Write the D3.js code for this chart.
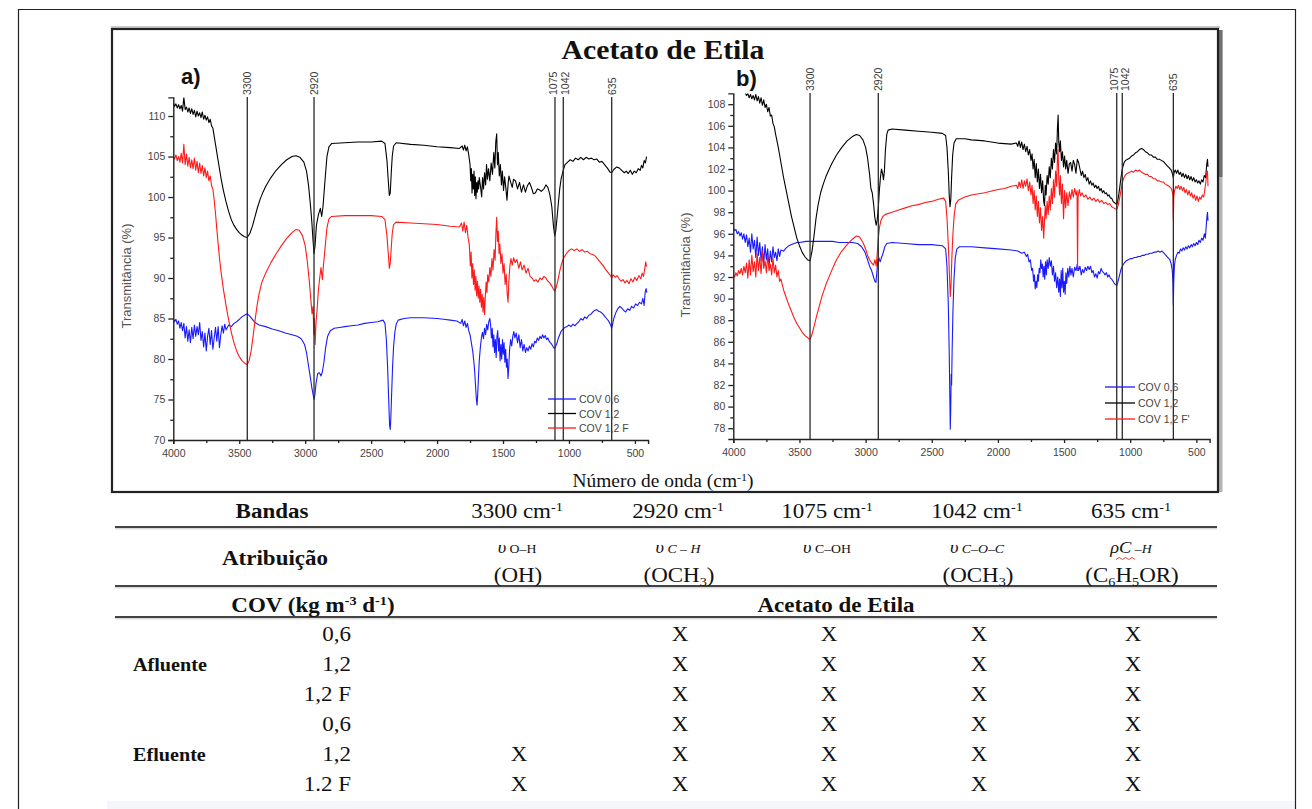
<!DOCTYPE html>
<html><head><meta charset="utf-8">
<script src="https://cdn.jsdelivr.net/npm/d3@7"></script>
<style>body{margin:0;background:#fff}svg{display:block}</style>
</head><body>
<svg id="c" width="1312" height="809"></svg>
<script>
// ---------------- DATA ----------------
const xTicks = [4000,3500,3000,2500,2000,1500,1000,500];
const yTicksA = [70,75,80,85,90,95,100,105,110];
const yTicksB = [78,80,82,84,86,88,90,92,94,96,98,100,102,104,106,108];
const refLabels = ["3300","2920","1075","1042","635"];
const refLinesA = [3439,2933,1106,1043,676];
const refLinesB = [3420,2904,1102,1060,674];
const seriesNames = ["COV 0,6","COV 1,2","COV 1,2 F"];
const seriesNamesB = ["COV 0,6","COV 1,2","COV 1,2 F'"];

const a_cov06 = [[4000,85.0],[3990,84.6],[3980,84.9],[3970,84.3],[3960,84.7],[3950,83.8],[3940,84.5],[3930,83.5],[3920,84.4],[3910,82.6],[3900,84.0],[3890,82.2],[3880,83.6],[3870,82.0],[3860,83.9],[3850,82.5],[3840,84.2],[3830,82.8],[3820,84.0],[3810,83.0],[3800,84.5],[3790,82.3],[3780,83.4],[3770,81.5],[3760,83.2],[3750,81.0],[3740,82.8],[3730,83.8],[3720,81.8],[3710,83.5],[3700,81.2],[3690,82.6],[3680,83.9],[3670,82.2],[3660,84.0],[3650,81.4],[3640,83.0],[3630,84.1],[3620,83.2],[3610,84.3],[3600,83.6],[3580,84.2],[3560,84.0],[3540,84.4],[3520,84.6],[3500,84.9],[3480,85.2],[3460,85.4],[3440,85.6],[3420,85.3],[3400,84.9],[3380,84.5],[3350,84.2],[3300,84.0],[3250,83.7],[3200,83.5],[3150,83.2],[3100,83.0],[3060,82.8],[3030,82.5],[3005,81.8],[2990,80.8],[2975,79.2],[2960,77.6],[2948,76.3],[2940,75.6],[2933,75.0],[2926,75.6],[2918,77.0],[2905,78.2],[2892,78.3],[2880,77.9],[2870,78.4],[2858,79.6],[2845,81.4],[2830,82.8],[2810,83.5],[2780,83.8],[2740,83.9],[2700,84.0],[2650,84.1],[2600,84.2],[2550,84.4],[2500,84.5],[2450,84.6],[2410,84.8],[2395,84.4],[2385,82.5],[2375,79.0],[2367,75.0],[2360,71.8],[2355,71.3],[2350,73.0],[2345,75.5],[2338,78.8],[2330,81.5],[2320,83.3],[2310,84.3],[2295,84.8],[2250,85.0],[2200,85.1],[2100,85.1],[2000,85.0],[1950,84.9],[1900,84.8],[1850,84.7],[1820,84.4],[1810,84.9],[1800,84.1],[1790,84.7],[1780,83.9],[1770,84.4],[1760,83.5],[1750,83.0],[1740,82.0],[1730,81.0],[1722,79.8],[1715,78.5],[1708,76.6],[1702,75.0],[1697,74.3],[1692,75.6],[1686,77.8],[1680,79.8],[1672,81.4],[1664,82.6],[1656,83.3],[1648,82.5],[1640,83.8],[1632,83.0],[1624,84.3],[1616,83.6],[1608,84.6],[1600,85.0],[1594,84.2],[1588,82.6],[1582,83.8],[1576,81.5],[1570,83.0],[1564,80.8],[1558,82.4],[1552,80.2],[1546,82.8],[1540,83.5],[1534,81.0],[1528,82.6],[1522,79.8],[1516,81.8],[1510,80.0],[1504,82.4],[1498,80.6],[1492,82.0],[1486,79.6],[1480,81.2],[1474,79.0],[1468,80.0],[1462,77.6],[1456,79.2],[1450,81.2],[1442,82.4],[1434,81.6],[1426,82.8],[1418,83.4],[1410,82.6],[1400,83.2],[1390,82.0],[1380,83.0],[1370,81.4],[1360,82.4],[1350,81.0],[1340,81.8],[1330,80.8],[1320,81.4],[1310,81.0],[1300,81.6],[1290,81.2],[1280,81.9],[1270,81.5],[1260,82.2],[1250,82.0],[1240,82.6],[1230,82.3],[1220,82.8],[1210,82.5],[1200,83.0],[1190,82.6],[1180,82.9],[1170,82.4],[1160,82.6],[1150,82.2],[1140,82.0],[1130,81.8],[1120,81.5],[1110,81.3],[1100,81.6],[1090,82.0],[1080,82.6],[1070,83.0],[1060,83.4],[1045,83.7],[1030,83.9],[1015,84.0],[1000,84.2],[985,84.0],[970,84.3],[955,84.1],[940,84.4],[925,84.6],[910,85.0],[895,84.8],[880,85.2],[865,85.0],[850,85.4],[835,85.5],[820,85.8],[805,86.0],[790,86.1],[775,85.9],[760,85.8],[745,85.6],[730,85.3],[715,85.0],[700,84.7],[690,84.4],[682,84.1],[676,83.8],[670,84.2],[660,85.0],[645,85.7],[630,86.2],[615,86.5],[600,86.3],[585,86.0],[570,85.8],[555,86.2],[540,86.0],[525,86.5],[510,86.3],[495,86.8],[480,86.6],[465,87.0],[450,86.8],[440,87.5],[430,86.6],[422,88.3],[415,88.7],[410,88.2]];

const a_cov12 = [[4000,111.6],[3990,111.2],[3980,111.5],[3970,111.0],[3960,111.4],[3950,110.9],[3940,111.3],[3930,110.6],[3920,112.3],[3910,110.8],[3900,111.1],[3890,110.5],[3880,111.0],[3870,110.3],[3860,110.9],[3850,110.2],[3840,110.7],[3830,109.9],[3820,110.6],[3810,110.0],[3800,110.4],[3790,109.8],[3780,110.5],[3770,109.6],[3760,110.1],[3750,109.5],[3740,109.9],[3730,109.2],[3720,109.6],[3710,108.8],[3700,108.5],[3680,106.5],[3660,104.5],[3640,102.5],[3620,100.8],[3600,99.4],[3580,98.2],[3560,97.2],[3540,96.5],[3520,96.0],[3500,95.6],[3480,95.3],[3460,95.1],[3440,95.0],[3420,95.5],[3400,96.4],[3380,97.6],[3360,98.8],[3340,99.8],[3320,100.6],[3300,101.3],[3260,102.4],[3220,103.3],[3180,104.0],[3140,104.6],[3100,105.0],[3070,105.1],[3040,104.9],[3010,104.3],[2990,103.2],[2975,101.5],[2960,99.0],[2950,97.0],[2940,94.5],[2933,93.0],[2925,94.0],[2915,96.5],[2900,97.8],[2885,98.6],[2875,97.6],[2865,98.8],[2850,102.0],[2835,105.0],[2820,106.2],[2800,106.6],[2700,106.7],[2600,106.8],[2500,106.8],[2420,106.9],[2395,106.6],[2380,104.5],[2370,102.0],[2362,100.2],[2355,100.5],[2348,102.8],[2340,105.0],[2330,106.3],[2310,106.7],[2200,106.5],[2100,106.4],[2000,106.2],[1900,106.1],[1830,106.0],[1810,106.3],[1800,105.8],[1790,106.4],[1780,105.7],[1770,106.2],[1760,105.2],[1750,104.0],[1745,102.0],[1740,103.5],[1735,100.5],[1730,102.8],[1725,101.0],[1720,103.2],[1715,100.2],[1710,102.5],[1705,99.8],[1700,101.8],[1695,100.6],[1690,102.0],[1685,101.0],[1680,102.4],[1670,101.2],[1662,100.0],[1655,102.4],[1648,101.0],[1640,103.0],[1632,101.5],[1625,104.0],[1618,102.2],[1610,103.5],[1600,102.0],[1590,104.2],[1580,102.8],[1570,105.5],[1562,103.6],[1555,106.8],[1548,107.8],[1542,104.0],[1536,105.5],[1528,102.6],[1520,104.0],[1512,101.5],[1505,103.2],[1496,100.8],[1488,102.5],[1478,101.0],[1470,99.6],[1462,101.5],[1455,102.6],[1445,102.0],[1430,101.2],[1420,102.2],[1405,102.0],[1390,101.0],[1375,101.8],[1360,100.6],[1345,101.5],[1330,100.6],[1315,101.4],[1300,101.8],[1285,101.2],[1270,100.4],[1255,100.5],[1240,101.0],[1225,100.9],[1210,100.7],[1190,101.0],[1175,101.5],[1160,101.2],[1145,100.3],[1130,98.8],[1118,96.5],[1108,95.2],[1100,95.8],[1090,97.5],[1080,99.3],[1070,101.0],[1060,102.2],[1045,103.2],[1030,104.0],[1010,104.3],[990,104.6],[970,104.4],[950,104.8],[930,104.6],[910,104.9],[890,104.6],[870,104.9],[850,104.7],[830,104.8],[810,104.6],[790,104.7],[770,104.3],[750,104.4],[730,104.0],[710,103.6],[690,103.1],[676,103.0],[660,103.4],[640,103.7],[620,103.6],[600,103.3],[580,103.0],[565,103.2],[550,102.9],[535,103.3],[520,102.8],[505,103.2],[490,103.0],[475,103.5],[460,103.3],[450,103.9],[440,103.6],[430,104.5],[420,104.2],[412,105.0]];

const a_cov12F = [[4000,105.0],[3990,104.7],[3980,105.2],[3970,104.5],[3960,105.0],[3950,104.3],[3940,105.4],[3930,104.2],[3920,106.5],[3910,104.0],[3900,105.3],[3890,103.8],[3880,104.9],[3870,103.6],[3860,104.6],[3850,103.5],[3840,104.8],[3830,103.3],[3820,104.4],[3810,103.0],[3800,104.2],[3790,102.9],[3780,103.9],[3770,102.6],[3760,103.6],[3750,102.4],[3740,103.2],[3730,102.0],[3720,102.6],[3710,101.4],[3700,101.0],[3690,99.6],[3680,98.0],[3670,96.0],[3660,94.2],[3650,92.5],[3640,91.0],[3620,88.6],[3600,86.6],[3580,84.8],[3560,83.3],[3540,82.0],[3520,81.0],[3500,80.3],[3480,79.8],[3460,79.5],[3440,79.3],[3425,79.8],[3410,81.0],[3395,82.8],[3380,84.8],[3365,86.6],[3350,88.0],[3330,89.4],[3300,90.6],[3260,91.9],[3220,93.0],[3180,94.0],[3140,94.9],[3100,95.6],[3070,96.0],[3045,95.9],[3020,95.2],[3000,94.0],[2985,92.2],[2970,89.8],[2958,87.5],[2948,85.6],[2940,86.5],[2935,83.0],[2930,85.0],[2925,81.8],[2918,84.5],[2910,86.0],[2900,88.5],[2890,90.0],[2880,91.3],[2870,89.8],[2862,91.5],[2850,93.6],[2835,96.2],[2820,97.3],[2800,97.6],[2700,97.7],[2600,97.7],[2500,97.7],[2420,97.6],[2395,97.2],[2380,95.2],[2370,93.0],[2362,91.2],[2355,91.8],[2348,93.6],[2340,95.5],[2330,96.6],[2310,96.9],[2200,96.8],[2100,96.7],[2000,96.6],[1900,96.4],[1830,96.3],[1815,96.8],[1805,95.8],[1795,96.9],[1785,95.6],[1775,96.5],[1765,95.0],[1755,94.0],[1748,91.5],[1742,93.2],[1736,90.0],[1730,91.8],[1724,89.2],[1718,91.0],[1712,88.5],[1706,90.2],[1700,87.8],[1694,89.6],[1688,87.5],[1682,89.0],[1676,87.0],[1670,88.6],[1664,86.4],[1658,88.0],[1652,85.8],[1646,87.6],[1640,85.5],[1634,87.8],[1628,89.5],[1622,88.2],[1616,90.4],[1608,89.5],[1600,91.3],[1592,90.2],[1584,92.4],[1576,91.0],[1568,93.5],[1560,92.2],[1554,95.5],[1548,97.5],[1542,94.5],[1536,95.8],[1530,93.0],[1524,94.2],[1516,91.8],[1508,93.0],[1500,90.6],[1492,91.8],[1484,89.2],[1476,90.5],[1468,88.0],[1462,87.0],[1456,89.5],[1448,91.5],[1440,92.4],[1430,91.6],[1420,92.5],[1408,91.9],[1395,92.3],[1380,91.2],[1368,92.0],[1355,91.0],[1340,91.6],[1325,90.6],[1310,91.2],[1295,90.2],[1280,90.0],[1265,89.6],[1250,89.8],[1235,89.5],[1220,90.0],[1205,89.8],[1190,90.2],[1175,90.0],[1160,89.6],[1145,89.4],[1130,89.0],[1118,88.6],[1108,88.4],[1098,88.8],[1088,89.4],[1078,90.2],[1068,91.0],[1055,91.8],[1040,92.5],[1020,93.0],[1000,93.4],[980,93.6],[960,93.4],[940,93.6],[920,93.3],[900,93.5],[880,93.2],[860,93.3],[840,93.0],[820,92.9],[800,92.7],[780,92.3],[760,91.9],[740,91.5],[720,91.0],[700,90.6],[685,90.3],[676,90.0],[665,90.4],[650,90.1],[635,90.3],[620,89.9],[605,89.6],[590,89.8],[575,89.4],[560,89.7],[545,89.3],[530,89.9],[515,89.5],[500,90.1],[485,89.7],[470,90.3],[455,89.9],[445,90.6],[435,90.2],[425,91.2],[418,92.0],[412,91.4]];

const b_cov06 = [[4000,96.5],[3990,96.3],[3980,96.4],[3970,96.0],[3960,96.2],[3950,95.8],[3940,96.1],[3930,95.5],[3920,96.0],[3910,95.2],[3900,95.9],[3890,94.8],[3880,95.6],[3870,94.3],[3860,96.0],[3850,94.6],[3840,95.4],[3830,93.8],[3820,95.7],[3810,94.0],[3800,95.2],[3790,93.5],[3780,94.8],[3770,93.2],[3760,95.0],[3750,93.6],[3740,94.6],[3730,93.0],[3720,94.4],[3710,93.4],[3700,94.8],[3690,93.8],[3680,94.3],[3670,93.5],[3660,94.6],[3650,93.9],[3640,94.5],[3620,94.4],[3600,94.7],[3580,94.9],[3560,95.0],[3540,95.1],[3520,95.2],[3500,95.2],[3450,95.3],[3400,95.3],[3350,95.3],[3300,95.3],[3250,95.3],[3200,95.2],[3150,95.2],[3100,95.2],[3060,95.1],[3030,94.8],[3005,94.3],[2985,93.6],[2970,93.0],[2955,92.6],[2940,92.0],[2930,91.6],[2922,91.5],[2915,92.4],[2908,93.6],[2900,93.8],[2890,93.4],[2880,93.8],[2868,94.2],[2855,94.8],[2840,95.1],[2800,95.2],[2700,95.1],[2600,95.0],[2500,95.0],[2420,94.9],[2395,94.6],[2385,93.0],[2375,89.5],[2368,85.0],[2363,80.5],[2360,77.9],[2357,79.5],[2353,83.0],[2350,82.0],[2346,85.2],[2340,88.8],[2332,91.8],[2322,93.8],[2310,94.6],[2290,94.8],[2200,94.8],[2100,94.7],[2000,94.6],[1900,94.5],[1850,94.4],[1820,94.2],[1800,94.3],[1785,93.9],[1775,94.1],[1765,93.4],[1755,93.6],[1745,92.6],[1738,92.8],[1730,91.6],[1724,92.2],[1718,90.9],[1712,91.6],[1706,91.0],[1700,92.2],[1694,91.6],[1688,92.8],[1682,92.4],[1676,93.6],[1670,92.8],[1664,93.2],[1658,92.0],[1652,93.0],[1646,91.8],[1640,93.4],[1634,92.2],[1628,93.6],[1620,92.8],[1612,93.8],[1604,93.0],[1596,93.5],[1588,92.2],[1580,93.0],[1572,91.6],[1564,92.4],[1556,91.0],[1548,92.0],[1540,90.6],[1534,91.8],[1528,90.2],[1522,92.6],[1516,91.0],[1510,92.8],[1504,90.6],[1498,91.6],[1492,90.4],[1486,92.4],[1480,91.4],[1472,92.8],[1464,92.0],[1456,93.0],[1448,92.2],[1440,92.8],[1430,92.0],[1420,92.9],[1410,92.6],[1400,93.2],[1390,92.6],[1380,93.0],[1370,92.2],[1360,92.7],[1350,92.4],[1340,92.9],[1330,92.6],[1320,93.0],[1310,92.7],[1300,93.0],[1290,92.4],[1280,92.6],[1270,92.0],[1260,92.3],[1250,91.9],[1240,92.5],[1230,92.3],[1220,92.8],[1210,92.5],[1200,92.4],[1190,92.2],[1180,92.4],[1170,92.0],[1160,92.2],[1150,91.9],[1140,91.8],[1130,91.6],[1120,91.4],[1110,91.3],[1102,91.2],[1094,91.5],[1086,91.9],[1078,92.3],[1070,92.7],[1060,93.0],[1045,93.3],[1030,93.5],[1015,93.6],[1000,93.7],[985,93.7],[970,93.8],[955,93.8],[940,93.9],[925,93.9],[910,94.0],[895,94.0],[880,94.1],[865,94.1],[850,94.2],[835,94.2],[820,94.3],[805,94.3],[790,94.4],[775,94.3],[760,94.4],[745,94.2],[730,94.0],[715,93.8],[700,93.6],[690,93.2],[682,92.6],[677,91.4],[674,89.4],[671,91.6],[666,93.0],[660,93.6],[650,94.0],[640,94.3],[630,94.2],[620,94.6],[610,94.4],[600,94.7],[590,94.5],[580,94.8],[570,94.6],[560,94.9],[550,94.7],[540,95.0],[530,94.8],[520,95.1],[510,94.9],[500,95.2],[490,95.0],[480,95.4],[470,95.2],[460,95.6],[450,95.4],[440,96.0],[432,95.6],[425,96.8],[420,97.6],[416,98.0],[412,97.2]];

const b_cov12 = [[4000,109.4],[3980,109.2],[3960,109.5],[3940,109.1],[3920,109.3],[3900,108.8],[3890,109.0],[3880,108.6],[3870,108.9],[3860,108.5],[3850,108.8],[3840,108.4],[3830,108.9],[3820,108.3],[3810,108.7],[3800,108.1],[3790,108.6],[3780,107.9],[3770,108.4],[3760,107.7],[3750,108.0],[3740,107.3],[3730,107.7],[3720,106.9],[3710,107.0],[3700,106.2],[3690,105.9],[3680,105.2],[3660,104.0],[3640,102.6],[3620,101.2],[3600,100.0],[3580,98.8],[3560,97.6],[3540,96.6],[3520,95.6],[3500,94.9],[3480,94.3],[3460,93.9],[3440,93.6],[3420,93.5],[3405,94.4],[3390,95.8],[3375,97.4],[3360,98.6],[3340,99.8],[3320,100.6],[3300,101.3],[3260,102.4],[3220,103.3],[3180,104.0],[3140,104.6],[3100,105.0],[3070,105.2],[3045,105.1],[3020,104.7],[3000,104.0],[2985,103.0],[2970,101.5],[2960,100.2],[2950,99.8],[2940,98.8],[2930,97.5],[2920,96.8],[2912,97.3],[2904,98.4],[2896,100.0],[2888,101.2],[2880,102.0],[2872,101.6],[2865,101.0],[2858,101.8],[2850,103.8],[2840,105.2],[2830,105.6],[2800,105.7],[2700,105.6],[2600,105.5],[2500,105.4],[2420,105.3],[2395,105.1],[2385,104.0],[2375,101.8],[2368,99.6],[2362,98.5],[2356,99.2],[2350,101.2],[2342,103.3],[2332,104.4],[2315,104.8],[2250,104.8],[2200,104.7],[2100,104.6],[2000,104.4],[1900,104.3],[1860,104.4],[1850,104.1],[1840,104.6],[1830,104.0],[1820,104.5],[1810,103.8],[1800,104.3],[1790,103.6],[1780,104.1],[1770,103.3],[1760,103.8],[1750,102.8],[1742,103.4],[1734,102.0],[1726,102.9],[1718,101.2],[1710,102.5],[1702,100.8],[1694,102.0],[1686,100.2],[1678,101.5],[1670,99.8],[1662,100.9],[1654,99.0],[1648,98.6],[1642,100.5],[1636,99.6],[1628,101.4],[1620,100.6],[1612,102.2],[1604,101.2],[1596,103.0],[1588,102.0],[1580,103.8],[1572,102.6],[1564,104.4],[1556,103.4],[1550,105.8],[1545,107.0],[1540,104.5],[1534,103.6],[1528,104.6],[1520,102.8],[1512,103.6],[1504,102.2],[1496,103.2],[1488,102.0],[1480,102.8],[1470,101.6],[1460,102.5],[1450,102.6],[1440,101.8],[1430,102.8],[1420,102.4],[1410,101.6],[1400,102.9],[1390,102.6],[1380,102.0],[1370,101.4],[1360,101.8],[1350,101.2],[1340,101.5],[1330,100.9],[1320,101.2],[1310,100.6],[1300,100.9],[1290,100.5],[1280,100.7],[1270,100.3],[1260,100.5],[1250,100.2],[1240,100.4],[1230,100.0],[1220,100.2],[1210,99.8],[1200,100.0],[1190,99.7],[1180,99.8],[1170,99.5],[1160,99.6],[1150,99.3],[1140,99.3],[1130,99.0],[1120,98.9],[1110,98.8],[1102,98.7],[1095,99.0],[1088,99.5],[1080,100.2],[1072,101.0],[1064,101.7],[1056,102.2],[1046,102.6],[1035,102.8],[1020,102.9],[1005,103.0],[990,103.2],[975,103.3],[960,103.5],[945,103.6],[930,103.8],[915,103.9],[900,103.8],[885,103.6],[870,103.5],[855,103.3],[840,103.3],[825,103.1],[810,103.1],[795,102.9],[780,102.9],[765,102.8],[750,102.7],[735,102.5],[720,102.3],[705,102.1],[690,101.9],[682,101.6],[674,101.2],[668,101.7],[660,101.9],[650,101.6],[640,101.9],[630,101.5],[620,101.7],[610,101.3],[600,101.6],[590,101.2],[580,101.5],[570,101.1],[560,101.4],[550,101.0],[540,101.3],[530,100.9],[520,101.2],[510,100.8],[500,101.0],[490,100.7],[480,100.9],[470,100.6],[460,101.0],[450,100.8],[440,101.4],[430,101.2],[422,102.4],[416,102.9],[412,102.2]];

const b_cov12F = [[4000,92.2],[3990,92.0],[3980,92.4],[3970,92.1],[3960,92.6],[3950,92.3],[3940,92.8],[3930,92.2],[3920,93.0],[3910,92.4],[3900,93.3],[3890,91.9],[3880,93.6],[3870,92.2],[3860,94.0],[3850,92.5],[3840,93.4],[3830,92.0],[3820,94.2],[3810,92.6],[3800,93.8],[3790,92.3],[3780,94.4],[3770,92.8],[3760,93.5],[3750,92.4],[3740,94.0],[3730,92.6],[3720,93.2],[3710,92.2],[3700,93.7],[3690,92.4],[3680,93.1],[3670,92.0],[3660,92.6],[3650,91.6],[3640,91.8],[3620,90.8],[3600,90.1],[3580,89.4],[3560,88.8],[3540,88.2],[3520,87.7],[3500,87.3],[3480,86.9],[3460,86.6],[3440,86.4],[3420,86.2],[3405,86.7],[3390,87.4],[3370,88.4],[3350,89.3],[3330,90.2],[3300,91.3],[3260,92.5],[3220,93.6],[3180,94.4],[3140,95.0],[3100,95.5],[3070,95.8],[3045,95.7],[3020,95.2],[3000,94.6],[2985,94.0],[2970,93.6],[2955,93.3],[2940,93.1],[2930,93.6],[2920,93.0],[2912,94.2],[2904,95.6],[2895,96.6],[2885,97.2],[2870,97.6],[2850,97.8],[2800,98.0],[2750,98.2],[2700,98.4],[2650,98.6],[2600,98.7],[2550,98.9],[2500,99.0],[2450,99.2],[2410,99.3],[2395,99.0],[2385,97.5],[2375,95.0],[2367,92.4],[2360,90.2],[2354,91.4],[2348,93.8],[2340,96.0],[2330,97.8],[2318,98.8],[2300,99.1],[2250,99.4],[2200,99.6],[2100,99.8],[2000,100.1],[1950,100.2],[1900,100.4],[1860,100.5],[1850,100.2],[1840,100.8],[1830,100.3],[1820,101.0],[1810,100.2],[1800,100.9],[1790,100.4],[1780,101.1],[1770,100.0],[1760,100.8],[1750,99.6],[1742,100.5],[1734,98.8],[1726,100.0],[1718,98.2],[1710,99.5],[1702,97.6],[1694,99.0],[1686,97.0],[1678,98.4],[1670,96.3],[1662,97.6],[1654,95.6],[1648,97.2],[1642,98.6],[1636,97.4],[1628,99.0],[1620,97.8],[1612,99.5],[1604,98.2],[1596,100.2],[1588,98.8],[1580,101.0],[1572,99.4],[1564,101.8],[1556,100.4],[1550,103.2],[1545,103.8],[1540,101.0],[1534,99.6],[1528,101.4],[1520,98.8],[1512,100.6],[1504,97.4],[1496,100.0],[1488,98.4],[1480,99.8],[1470,98.6],[1460,99.9],[1450,99.2],[1440,100.1],[1430,99.4],[1420,100.2],[1410,99.6],[1402,100.0],[1398,92.6],[1394,99.4],[1385,100.1],[1375,99.5],[1365,99.8],[1350,99.4],[1335,99.6],[1320,99.2],[1305,99.4],[1290,99.1],[1275,99.3],[1260,99.0],[1245,99.2],[1230,98.9],[1215,99.1],[1200,98.8],[1185,98.9],[1170,98.7],[1155,98.8],[1140,98.5],[1125,98.4],[1110,98.3],[1100,98.3],[1090,98.7],[1080,99.3],[1070,100.0],[1060,100.7],[1048,101.2],[1035,101.5],[1020,101.6],[1005,101.7],[990,101.8],[975,101.7],[960,101.9],[945,101.8],[930,101.9],[915,101.7],[900,101.6],[885,101.5],[870,101.5],[855,101.3],[840,101.3],[825,101.1],[810,101.1],[795,100.9],[780,100.9],[765,100.8],[750,100.8],[735,100.6],[720,100.5],[705,100.4],[690,100.2],[682,99.9],[677,99.5],[674,97.2],[671,99.4],[665,100.0],[655,100.4],[645,100.2],[635,100.5],[625,100.1],[615,100.4],[605,100.0],[595,100.3],[585,99.8],[575,100.1],[565,99.6],[555,100.0],[545,99.5],[535,99.8],[525,99.3],[515,99.6],[505,99.1],[495,99.5],[485,99.0],[475,99.4],[465,99.2],[455,99.6],[445,99.4],[435,100.2],[428,100.8],[422,101.6],[416,101.8],[412,100.4]];

// table data
const bandHeaders = ["3300","2920","1075","1042","635"];
const attribTop = [
  [{t:"υ",it:1,fs:16},{t:" O–H",fs:12}],
  [{t:"υ",it:1,fs:16},{t:" C – H",it:1,fs:12}],
  [{t:"υ",it:1,fs:16},{t:" C–OH",fs:12}],
  [{t:"υ",it:1,fs:16},{t:" C–O–C",it:1,fs:12}],
  [{t:"ρC",it:1,fs:16},{t:" –H",it:1,fs:12}]
];
const attribBottom = [
  ["(OH)"],
  ["(OCH",{t:"3",sub:1},")"],
  [],
  ["(OCH",{t:"3",sub:1},")"],
  ["(C",{t:"6",sub:1},"H",{t:"5",sub:1},"OR)"]
];
const groups = ["Afluente","Efluente"];
const covValues = ["0,6","1,2","1,2 F","0,6","1,2","1.2 F"];
const presence = [
  [0,1,1,1,1],[0,1,1,1,1],[0,1,1,1,1],
  [0,1,1,1,1],[1,1,1,1,1],[1,1,1,1,1]
];

// ---------------- DRAW ----------------
const SERIF = "'Liberation Serif','Times New Roman',serif";
const SANS = "'Liberation Sans',Arial,sans-serif";
const svg = d3.select("#c");
const colors = ["#1a1aff","#000000","#ff1a1a"];

// outer frame
svg.append("rect").attr("x",0).attr("y",0).attr("width",1312).attr("height",809).attr("fill","#fff");
svg.append("rect").attr("x",107).attr("y",801).attr("width",1189).attr("height",8).attr("fill","#f4f6fa");
svg.append("path").attr("d","M18.5,809 V9.5 H1295.5 V809").attr("fill","none").attr("stroke","#222").attr("stroke-width",1.2);

// chart box
svg.append("rect").attr("x",1218).attr("y",30).attr("width",4.5).attr("height",462).attr("fill","#b5b5b5");
svg.append("rect").attr("x",1218).attr("y",30).attr("width",4.5).attr("height",147).attr("fill","#707070");
svg.append("line").attr("x1",111).attr("x2",1220).attr("y1",27).attr("y2",27).attr("stroke","#bbb").attr("stroke-width",1.5);
svg.append("rect").attr("x",112).attr("y",29).attr("width",1106).attr("height",463)
  .attr("fill","none").attr("stroke","#222").attr("stroke-width",2.2);

function rich(parent, x, y, segs, o={}) {
  const size=o.size||20, sx=o.sx||1;
  const g = parent.append("g").attr("transform",`translate(${x},${y}) scale(${sx},1)`);
  const t = g.append("text").attr("text-anchor",o.anchor||"middle").attr("font-family",o.family||SERIF)
    .attr("font-size",size).attr("font-weight",o.weight||"normal").attr("fill",o.fill||"#111");
  let off=0;
  segs.forEach(s=>{
    if (typeof s==="string") s={t:s};
    const fs = s.fs || ((s.sup||s.sub)? size*0.62 : size);
    const target = s.sup ? -size*0.36 : (s.sub ? size*0.18 : 0);
    const ts = t.append("tspan").text(s.t).attr("font-size",fs).attr("dy",target-off);
    if (s.it) ts.attr("font-style","italic");
    off = target;
  });
  return t;
}

// title
rich(svg, 663, 59, ["Acetato de Etila"], {size:27, weight:"bold", sx:1.1});

function panel(cfg) {
  const x = d3.scaleLinear().domain([4000,400]).range(cfg.xr);
  const y = d3.scaleLinear().domain(cfg.yd).range(cfg.yr);
  const g = svg.append("g");
  const id = "clip"+cfg.name;
  svg.append("clipPath").attr("id",id).append("rect")
    .attr("x",cfg.xr[0]).attr("y",cfg.yr[1]).attr("width",cfg.xr[1]-cfg.xr[0]).attr("height",cfg.yr[0]-cfg.yr[1]);
  const line = d3.line().x(d=>x(d[0])).y(d=>y(d[1]));
  const cg = g.append("g").attr("clip-path",`url(#${id})`);
  cfg.series.forEach((s,i)=>{
    cg.append("path").datum(s).attr("d",line).attr("fill","none").attr("stroke",colors[i])
      .attr("stroke-width",1.1).attr("stroke-linejoin","round");
  });
  // reference lines
  cfg.refs.forEach((r,i)=>{
    g.append("line").attr("x1",x(r)).attr("x2",x(r)).attr("y1",cfg.refTop).attr("y2",cfg.yr[0])
      .attr("stroke","#2a2a2a").attr("stroke-width",1.3);
    g.append("text").attr("transform",`translate(${x(r)+ (cfg.labOff[i]||0)},${cfg.refTop-2}) rotate(-90)`)
      .attr("text-anchor","start").attr("dominant-baseline","central")
      .attr("font-family",SANS).attr("font-size",10.5).attr("fill","#3a3a3a").text(refLabels[i]);
  });
  // axes
  g.append("g").attr("transform",`translate(0,${cfg.yr[0]})`)
    .call(d3.axisBottom(x).tickValues(xTicks).tickSize(4).tickPadding(6).tickFormat(d3.format("d")));
  g.append("g").attr("transform",`translate(0,${cfg.yr[0]})`)
    .call(d3.axisBottom(x).tickValues(xTicks.map(v=>v-250).filter(v=>v>=400)).tickSize(3).tickFormat(""))
    .call(s=>s.select(".domain").remove());
  g.append("g").attr("transform",`translate(${cfg.xr[0]},0)`)
    .call(d3.axisLeft(y).tickValues(cfg.yTicks).tickSize(5).tickPadding(3).tickFormat(d3.format("d")));
  g.append("g").attr("transform",`translate(${cfg.xr[0]},0)`)
    .call(d3.axisLeft(y).tickValues(cfg.yMinor).tickSize(3).tickFormat(""))
    .call(s=>s.select(".domain").remove());
  g.selectAll(".domain").attr("stroke","#222").attr("stroke-width",1.4);
  g.selectAll(".tick line").attr("stroke","#222").attr("stroke-width",1.3);
  g.selectAll(".tick text").attr("font-family",SANS).attr("font-size",10.5).attr("fill","#444");
  // y label
  g.append("text").attr("transform",`translate(${cfg.ylabX},${cfg.ylabY}) rotate(-90)`)
    .attr("text-anchor","middle").attr("font-family",SANS).attr("font-size",13).attr("fill","#555")
    .text("Transmitância (%)");
  // panel letter
  g.append("text").attr("x",cfg.letterX).attr("y",cfg.letterY).attr("font-family",SANS)
    .attr("font-weight","bold").attr("font-size",22).attr("fill","#111").text(cfg.name+")");
  // legend
  cfg.names.forEach((n,i)=>{
    const ly = cfg.legY + i*cfg.legDy;
    g.append("line").attr("x1",cfg.legX).attr("x2",cfg.legX+cfg.legW).attr("y1",ly).attr("y2",ly)
      .attr("stroke",colors[i]).attr("stroke-width",1.3);
    g.append("text").attr("x",cfg.legX+cfg.legW+3).attr("y",ly).attr("dominant-baseline","central")
      .attr("font-family",SANS).attr("font-size",10.5).attr("fill","#444").text(n);
  });
}

panel({name:"a", xr:[173.3,648.1], yd:[70,112.3], yr:[440,97.4], series:[a_cov06,a_cov12,a_cov12F],
  refs:refLinesA, refTop:97, labOff:[0,0,-2,2,0], yTicks:yTicksA, yMinor:d3.range(72.5,112,5),
  ylabX:131, ylabY:276, letterX:181, letterY:84, names:seriesNames, legX:548, legW:28, legY:399, legDy:14.5});
panel({name:"b", xr:[733.3,1209.6], yd:[77,109], yr:[439,93.4], series:[b_cov06,b_cov12,b_cov12F],
  refs:refLinesB, refTop:93, labOff:[0,0,-3,3,0], yTicks:yTicksB, yMinor:d3.range(79,109,2),
  ylabX:690, ylabY:265, letterX:736, letterY:86, names:seriesNamesB, legX:1105, legW:30, legY:387, legDy:16});

// x-axis title
rich(svg, 663, 487, ["Número de onda (cm",{t:"-1",sup:1},")"], {size:18, sx:1.08});

// ---------------- TABLE ----------------
const colX = [519, 680, 829, 979, 1133];
const rules = [527, 586, 617];
rules.forEach(r=>{
  svg.append("line").attr("x1",115).attr("x2",1217).attr("y1",r).attr("y2",r).attr("stroke","#444").attr("stroke-width",2);
  svg.append("line").attr("x1",115).attr("x2",1217).attr("y1",r+1.8).attr("y2",r+1.8).attr("stroke","#bbb").attr("stroke-width",0.8);
});
const tsx = 1.15;
rich(svg, 272, 518, ["Bandas"], {size:20, weight:"bold", sx:tsx});
bandHeaders.forEach((b,i)=> rich(svg, colX[i]-2, 518, [b+" cm",{t:"-1",sup:1}], {size:20, sx:tsx}));
rich(svg, 275, 565, ["Atribuição"], {size:20, weight:"bold", sx:tsx});
attribTop.forEach((a,i)=> rich(svg, colX[i]-2, 553, a, {size:16, sx:tsx}));
attribBottom.forEach((a,i)=> { if (a.length) rich(svg, colX[i]-1, 582, a, {size:20, sx:tsx}); });
// red spell-check squiggle under ρC
svg.append("path").attr("d", d3.range(0,7).map((k,j)=>`${j?"L":"M"}${1116+k*3.2},${j%2?557.5:559.5}`).join(""))
  .attr("fill","none").attr("stroke","#e03030").attr("stroke-width",0.9);
rich(svg, 313, 612, ["COV (kg m",{t:"-3",sup:1}," d",{t:"-1",sup:1},")"], {size:20, weight:"bold", sx:tsx});
rich(svg, 836, 612, ["Acetato de Etila"], {size:20, weight:"bold", sx:tsx});

covValues.forEach((v,r)=>{
  const yy = 641 + r*30;
  rich(svg, 351, yy, [v], {size:20, anchor:"end", sx:tsx});
  presence[r].forEach((p,c)=>{ if (p) rich(svg, colX[c], yy, ["X"], {size:20, sx:tsx}); });
});
groups.forEach((gname,i)=> rich(svg, 133, 671 + i*90, [gname], {size:18, weight:"bold", anchor:"start", sx:1.12}));
</script>
</body></html>
